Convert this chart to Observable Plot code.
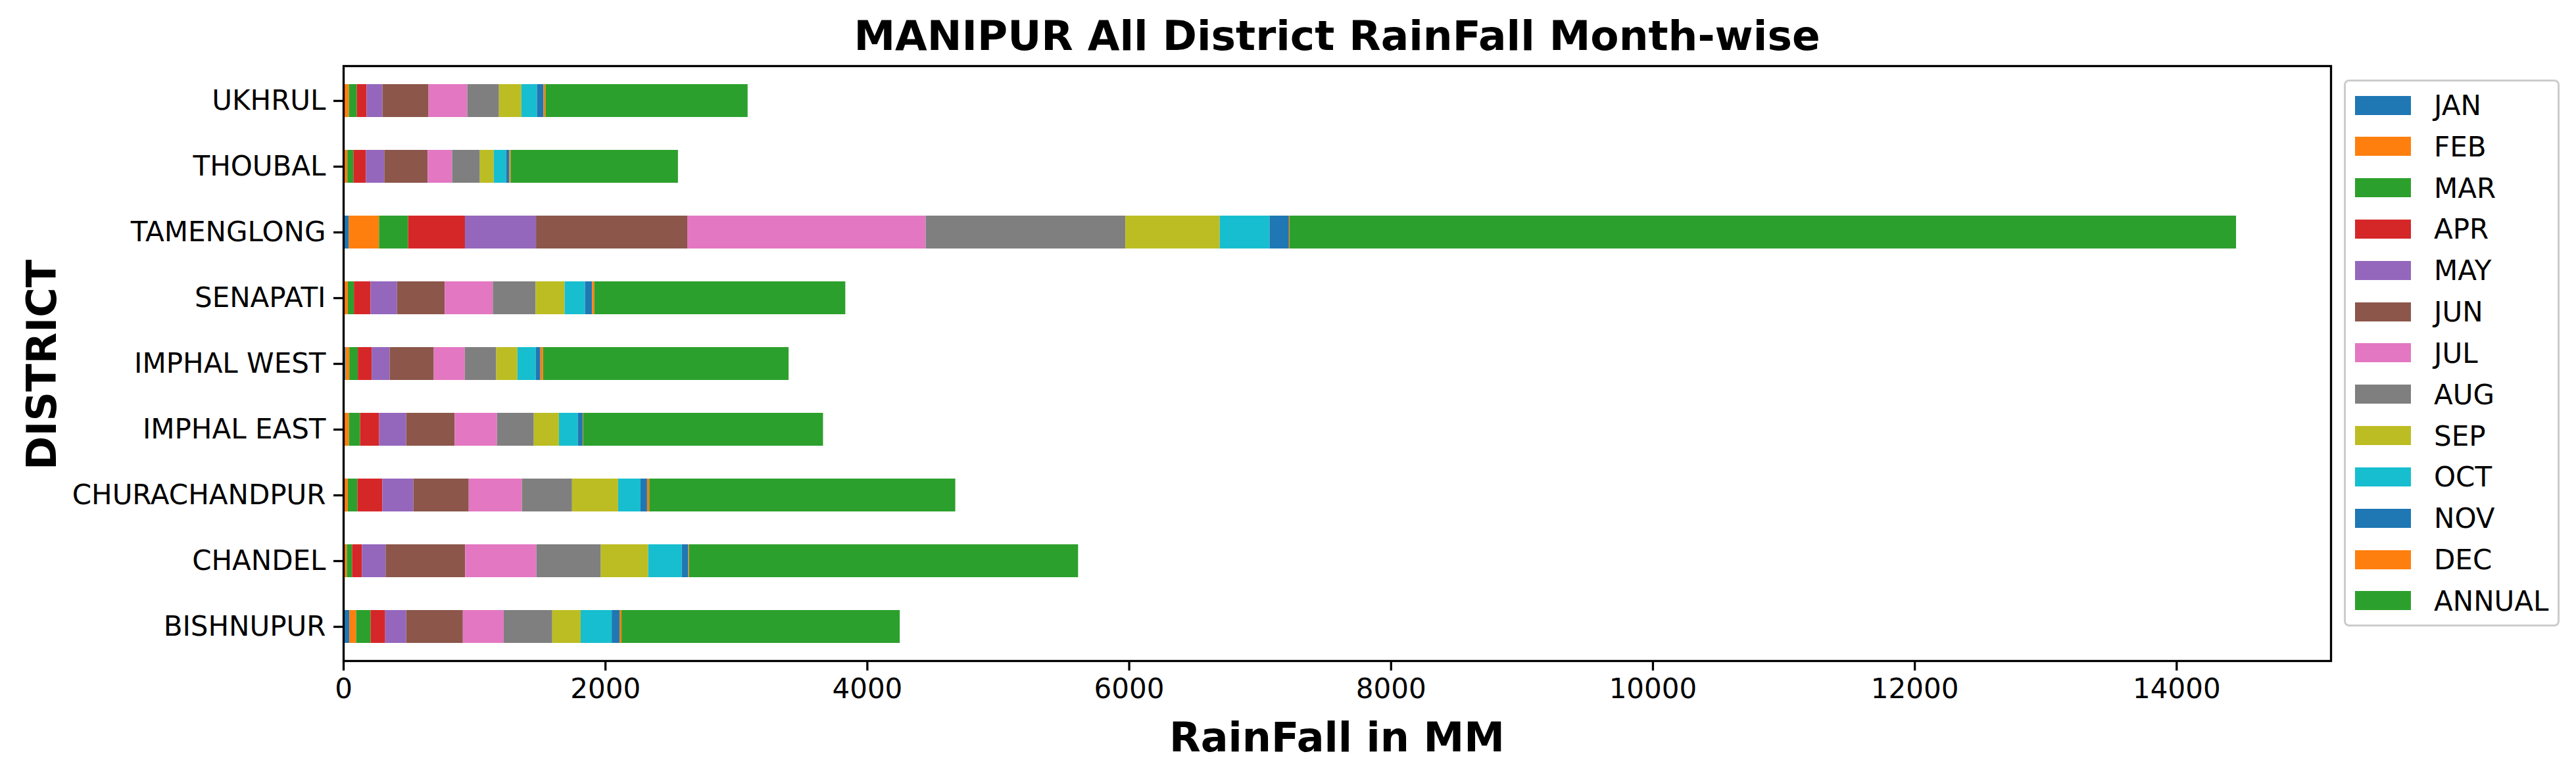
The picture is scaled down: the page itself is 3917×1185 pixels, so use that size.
<!DOCTYPE html>
<html><head><meta charset="utf-8">
<script src="https://cdn.jsdelivr.net/npm/d3@7"></script>
<script src="https://cdn.jsdelivr.net/npm/@observablehq/plot@0.6"></script>
<style>
body{margin:0;background:#fff;}
#wrap{position:relative;width:3917px;height:1185px;font-family:"DejaVu Sans",sans-serif;overflow:hidden;background:#fff;}
#wrap svg{position:absolute;left:0;top:0;display:block;}
.abs{position:absolute;white-space:nowrap;line-height:1;color:#000;}
</style></head><body><div id="wrap"></div>
<script>
// Districts (data order) and display order top-to-bottom
const districts = ["BISHNUPUR","CHANDEL","CHURACHANDPUR","IMPHAL EAST","IMPHAL WEST","SENAPATI","TAMENGLONG","THOUBAL","UKHRUL"];
const yOrder = ["UKHRUL","THOUBAL","TAMENGLONG","SENAPATI","IMPHAL WEST","IMPHAL EAST","CHURACHANDPUR","CHANDEL","BISHNUPUR"];
const months = ["JAN","FEB","MAR","APR","MAY","JUN","JUL","AUG","SEP","OCT","NOV","DEC","ANNUAL"];
const colors = ["#1f77b4","#ff7f0e","#2ca02c","#d62728","#9467bd","#8c564b","#e377c2","#7f7f7f","#bcbd22","#17becf","#1f77b4","#ff7f0e","#2ca02c"];
const xTicks = [0,2000,4000,6000,8000,10000,12000,14000];

// Rainfall (mm) per month, in the order of `districts`
const JAN    = [46, 4, 8, 6, 17, 8, 41, 8, 6];
const FEB    = [52, 23, 27, 37, 29, 27, 232, 23, 37];
const MAR    = [110, 40, 73, 85, 65, 46, 222, 46, 60];
const APR    = [112, 75, 190, 146, 106, 127, 434, 96, 75];
const MAY    = [160, 181, 237, 206, 137, 202, 543, 140, 121];
const JUN    = [433, 608, 423, 371, 337, 365, 1155, 331, 352];
const JUL    = [312, 544, 406, 323, 237, 367, 1821, 187, 296];
const AUG    = [371, 492, 383, 281, 240, 327, 1525, 212, 242];
const SEP    = [217, 362, 352, 192, 162, 221, 721, 106, 171];
const OCT    = [237, 256, 171, 144, 140, 156, 380, 94, 119];
const NOV    = [60, 50, 50, 37, 35, 54, 148, 25, 50];
const DEC    = [15, 6, 17, 4, 21, 17, 6, 10, 15];
const ANNUAL = [2125, 2971, 2337, 1832, 1875, 1917, 7228, 1278, 1544];
const series = [JAN,FEB,MAR,APR,MAY,JUN,JUL,AUG,SEP,OCT,NOV,DEC,ANNUAL];

const W = 3917, H = 1185;
const frameL = 522, frameR = 3544, frameT = 100, frameB = 1005;

const data = [];
districts.forEach((d, i) => months.forEach((m, j) => data.push({district: d, month: m, value: series[j][i]})));
const totals = districts.map((d, i) => d3.sum(series, s => s[i]));
const xmax = d3.max(totals) * 1.05;

const chart = Plot.plot({
  width: W, height: H,
  marginLeft: frameL, marginRight: W - frameR, marginTop: frameT, marginBottom: H - frameB,
  style: {fontFamily: "'DejaVu Sans', sans-serif", fontSize: "42px", background: "white", color: "black"},
  x: {domain: [0, xmax], label: null},
  y: {domain: yOrder, paddingInner: 0.5, paddingOuter: 0.25, label: null},
  color: {domain: months, range: colors},
  marks: [
    Plot.barX(data, Plot.stackX({x: "value", y: "district", fill: "month", order: months})),
    Plot.axisX({ticks: xTicks, tickFormat: d => String(d), tickSize: 15, tickPadding: 12, strokeWidth: 3.3, fontSize: 42, label: null}),
    Plot.axisY({tickSize: 15, tickPadding: 12, strokeWidth: 3.3, fontSize: 42, label: null}),
    Plot.frame({stroke: "black", strokeWidth: 3.3})
  ]
});
const wrap = document.getElementById("wrap");
wrap.appendChild(chart);

function addText(txt, css) {
  const d = document.createElement("div");
  d.className = "abs";
  d.textContent = txt;
  Object.assign(d.style, css);
  wrap.appendChild(d);
  return d;
}
// Title
addText("MANIPUR All District RainFall Month-wise", {left: frameL + "px", width: (frameR - frameL) + "px", textAlign: "center", top: "23px", fontSize: "63px", fontWeight: "bold"});
// X label
addText("RainFall in MM", {left: frameL + "px", width: (frameR - frameL) + "px", textAlign: "center", top: "1091px", fontSize: "62px", fontWeight: "bold"});
// Y label
addText("DISTRICT", {left: "64px", top: "555px", fontSize: "62px", fontWeight: "bold", transform: "translate(-50%,-50%) rotate(-90deg)"});

// Legend
const leg = document.createElement("div");
Object.assign(leg.style, {position: "absolute", left: "3564px", top: "121px", width: "322px", height: "826px", border: "3px solid #cccccc", borderRadius: "8px", background: "rgba(255,255,255,0.8)"});
wrap.appendChild(leg);
months.forEach((m, i) => {
  const cy = 36 + i * 62.83;
  const sw = document.createElement("div");
  Object.assign(sw.style, {position: "absolute", left: "14px", top: (cy - 14.5) + "px", width: "85px", height: "29px", background: colors[i]});
  leg.appendChild(sw);
  const t = document.createElement("div");
  t.className = "abs";
  t.textContent = m;
  Object.assign(t.style, {left: "134px", top: (cy - 20) + "px", fontSize: "42px"});
  leg.appendChild(t);
});
</script>
</body></html>
